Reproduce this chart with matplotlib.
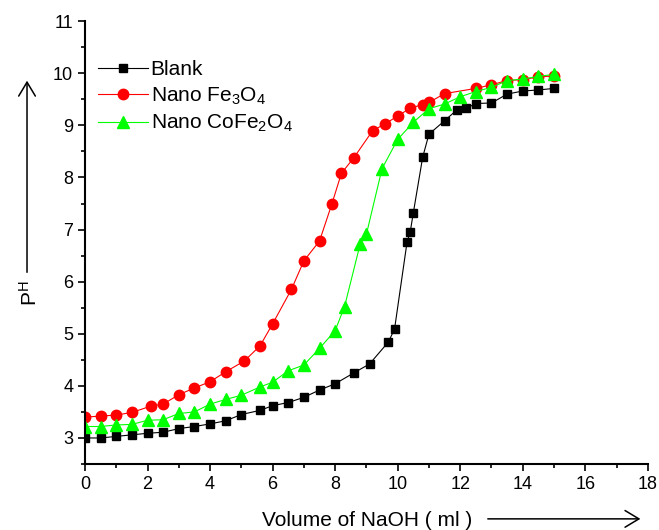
import matplotlib
matplotlib.use('Agg')
import matplotlib.pyplot as plt
from matplotlib.ticker import MultipleLocator

plt.rcParams['font.family'] = ['Liberation Sans', 'DejaVu Sans']
plt.rcParams['mathtext.default'] = 'regular'

# titration data: volume of NaOH (ml) vs pH
blank_x = [0, 0.5, 1, 1.5, 2, 2.5, 3, 3.5, 4, 4.5, 5, 5.6, 6, 6.5, 7, 7.5, 8,
           8.6, 9.1, 9.7, 9.9, 10.3, 10.4, 10.5, 10.8, 11, 11.5, 11.9, 12.2,
           12.5, 13, 13.5, 14, 14.5, 15]
blank_y = [3.0, 3.0, 3.03, 3.06, 3.09, 3.11, 3.18, 3.22, 3.27, 3.33, 3.45, 3.53,
           3.62, 3.68, 3.78, 3.92, 4.04, 4.25, 4.42, 4.84, 5.09, 6.76, 6.95, 7.32,
           8.39, 8.83, 9.09, 9.3, 9.33, 9.42, 9.43, 9.6, 9.66, 9.68, 9.71]

fe_x = [0, 0.5, 1, 1.5, 2.1, 2.5, 3, 3.5, 4, 4.5, 5.1, 5.6, 6, 6.6, 7, 7.5, 7.9,
        8.2, 8.6, 9.2, 9.6, 10, 10.4, 10.8, 11, 11.5, 12.5, 13, 13.5, 14, 14.5, 15]
fe_y = [3.4, 3.42, 3.44, 3.49, 3.61, 3.65, 3.83, 3.96, 4.08, 4.27, 4.48, 4.77,
        5.19, 5.85, 6.4, 6.78, 7.5, 8.08, 8.38, 8.9, 9.03, 9.18, 9.33, 9.4, 9.44,
        9.61, 9.71, 9.78, 9.86, 9.88, 9.93, 9.95]

co_x = [0, 0.5, 1, 1.5, 2, 2.5, 3, 3.5, 4, 4.5, 5, 5.6, 6, 6.5, 7, 7.5, 8, 8.3,
        8.8, 9, 9.5, 10, 10.5, 11, 11.5, 12, 12.5, 13, 13.5, 14, 14.5, 15]
co_y = [3.22, 3.22, 3.25, 3.26, 3.34, 3.35, 3.47, 3.5, 3.65, 3.74, 3.82, 3.98,
        4.07, 4.29, 4.4, 4.72, 5.06, 5.52, 6.72, 6.91, 8.17, 8.73, 9.06, 9.32,
        9.41, 9.55, 9.65, 9.73, 9.86, 9.89, 9.94, 9.98]

labels = ['Blank', 'Nano Fe$_3$O$_4$', 'Nano CoFe$_2$O$_4$']

fig = plt.figure(figsize=(6.59, 5.3), dpi=100)
ax = fig.add_axes([0.129, 0.1245, 0.854, 0.8355])

ax.plot(blank_x, blank_y, '-s', color='black', lw=0.8, ms=5.5, label=labels[0])
ax.plot(fe_x, fe_y, '-o', color='#ff0000', lw=0.8, ms=7.5, label=labels[1])
ax.plot(co_x, co_y, '-^', color='#00ff00', lw=0.8, ms=8, label=labels[2])

ax.set_xlim(0, 18)
ax.set_ylim(2.5, 11)
ax.xaxis.set_major_locator(MultipleLocator(2))
ax.xaxis.set_minor_locator(MultipleLocator(1))
ax.yaxis.set_major_locator(MultipleLocator(1))
ax.yaxis.set_minor_locator(MultipleLocator(0.5))
ax.set_yticks(range(3, 12))

for s in ['top', 'right']:
    ax.spines[s].set_visible(False)
for s in ['left', 'bottom']:
    ax.spines[s].set_linewidth(1.5)

ax.tick_params(which='major', direction='out', length=5, width=1.2, labelsize=13)
ax.tick_params(which='minor', direction='out', length=3, width=1.2)

ax.legend(loc='upper left', bbox_to_anchor=(0.0, 0.94), frameon=False,
          fontsize=15, handlelength=2.4, handletextpad=0.15, labelspacing=0.3,
          borderaxespad=0.2)

# axis labels with arrows, Origin style
fig.text(0.045, 0.447, 'P$^H$', rotation=90, fontsize=15, ha='center', va='center')
fig.text(0.557, 0.017, 'Volume of NaOH ( ml )', fontsize=15, ha='center', va='center')
fig.add_artist(matplotlib.patches.FancyArrowPatch(
    (0.041, 0.481), (0.041, 0.853), transform=fig.transFigure,
    arrowstyle='->,head_length=10,head_width=6', color='black', lw=1.1))
fig.add_artist(matplotlib.patches.FancyArrowPatch(
    (0.736, 0.021), (0.976, 0.021), transform=fig.transFigure,
    arrowstyle='->,head_length=10,head_width=6', color='black', lw=1.1))

fig.savefig('out.png', dpi=100)
